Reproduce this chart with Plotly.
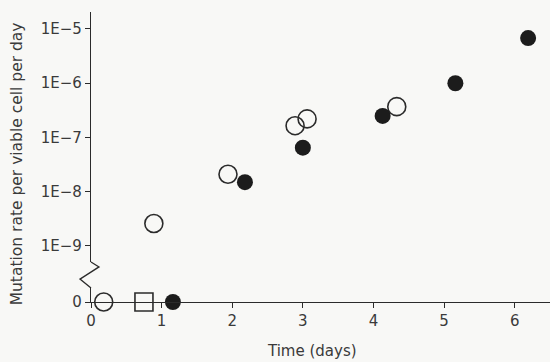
import plotly.graph_objects as go

# ---- data ----
open_days = [0.89, 1.94, 2.89, 3.06, 4.33]
open_rate = [2.6e-9, 2.1e-8, 1.65e-7, 2.2e-7, 3.7e-7]
filled_days = [2.18, 3.00, 4.13, 5.16, 6.19]
filled_rate = [1.5e-8, 6.5e-8, 2.5e-7, 1.0e-6, 6.8e-6]
zero_open_days = [0.18]
zero_square_days = [0.75]
zero_filled_days = [1.16]
zero_rate = [0]

y_tickvals = [1e-5, 1e-6, 1e-7, 1e-8, 1e-9]
y_ticktext = ["1E\u22125", "1E\u22126", "1E\u22127", "1E\u22128", "1E\u22129"]
x_tickvals = [0, 1, 2, 3, 4, 5, 6]
x_ticktext = ["0", "1", "2", "3", "4", "5", "6"]

INK = "#2b2b2b"
TXT = "#3a3a3a"
BG = "#f8f8f6"
FONT = "DejaVu Sans"

fig = go.Figure()

# log-scale part
fig.add_trace(go.Scatter(x=open_days, y=open_rate, mode="markers", yaxis="y", xaxis="x",
                         marker=dict(symbol="circle-open", size=18, color=INK, line=dict(width=1.6, color=INK)),
                         showlegend=False, cliponaxis=False))
fig.add_trace(go.Scatter(x=filled_days, y=filled_rate, mode="markers", yaxis="y", xaxis="x",
                         marker=dict(symbol="circle", size=16, color="#1c1c1c"),
                         showlegend=False, cliponaxis=False))
# zero row
fig.add_trace(go.Scatter(x=zero_open_days, y=zero_rate, mode="markers", yaxis="y2", xaxis="x",
                         marker=dict(symbol="circle-open", size=18, color=INK, line=dict(width=1.6, color=INK)),
                         showlegend=False, cliponaxis=False))
fig.add_trace(go.Scatter(x=zero_square_days, y=zero_rate, mode="markers", yaxis="y2", xaxis="x",
                         marker=dict(symbol="square-open", size=18, color=INK, line=dict(width=1.6, color=INK)),
                         showlegend=False, cliponaxis=False))
fig.add_trace(go.Scatter(x=zero_filled_days, y=zero_rate, mode="markers", yaxis="y2", xaxis="x",
                         marker=dict(symbol="circle", size=16, color="#1c1c1c"),
                         showlegend=False, cliponaxis=False))

axis_common = dict(showgrid=False, zeroline=False, showline=True, linecolor=INK, linewidth=1.3,
                   tickcolor=INK, tickwidth=1.2, ticks="outside", ticklen=5, automargin=False,
                   tickfont=dict(family=FONT, size=15, color=TXT))

fig.update_layout(
    width=550, height=362,
    margin=dict(l=91, r=0, t=12, b=60),
    paper_bgcolor=BG, plot_bgcolor=BG,
    xaxis=dict(range=[0, 6.5], anchor="y2", tickvals=x_tickvals, ticktext=x_ticktext, **axis_common),
    xaxis2=dict(range=[0, 6.5], anchor="y2", overlaying="x", tickvals=x_tickvals, showticklabels=False,
                showgrid=False, zeroline=False, showline=False, ticks="inside", ticklen=5,
                tickcolor=INK, tickwidth=1.2),
    yaxis=dict(type="log", range=[-9.295, -4.687], domain=[0.138, 1], anchor="x",
               tickvals=y_tickvals, ticktext=y_ticktext, **axis_common),
    yaxis3=dict(type="log", range=[-9.295, -4.687], domain=[0.138, 1], anchor="x", overlaying="y",
                tickvals=y_tickvals, showticklabels=False, showgrid=False, zeroline=False, showline=False,
                ticks="inside", ticklen=5, tickcolor=INK, tickwidth=1.2),
    yaxis2=dict(range=[0, 1], domain=[0, 0.048], anchor="x", tickvals=[0], ticktext=["0"], **axis_common),
)

# axis break zigzag between the log part and the zero row
fig.add_shape(type="path", xref="paper", yref="paper",
              path="M 0,0.138 L 0.0174,0.121 L -0.024,0.079 L 0,0.048",
              line=dict(color=INK, width=1.3))

fig.add_annotation(text="Mutation rate per viable cell per day", textangle=-90,
                   xref="paper", yref="paper", x=-0.161, y=0.475, xanchor="center", yanchor="middle",
                   showarrow=False, font=dict(family=FONT, size=15.5, color=TXT))
fig.add_annotation(text="Time (days)", xref="paper", yref="paper", x=0.4815, y=-0.169,
                   xanchor="center", yanchor="middle",
                   showarrow=False, font=dict(family=FONT, size=15, color=TXT))

fig.write_html("out.html", config={"displayModeBar": False},
               post_script="document.body.style.margin='0';document.body.style.background='%s';" % BG)
